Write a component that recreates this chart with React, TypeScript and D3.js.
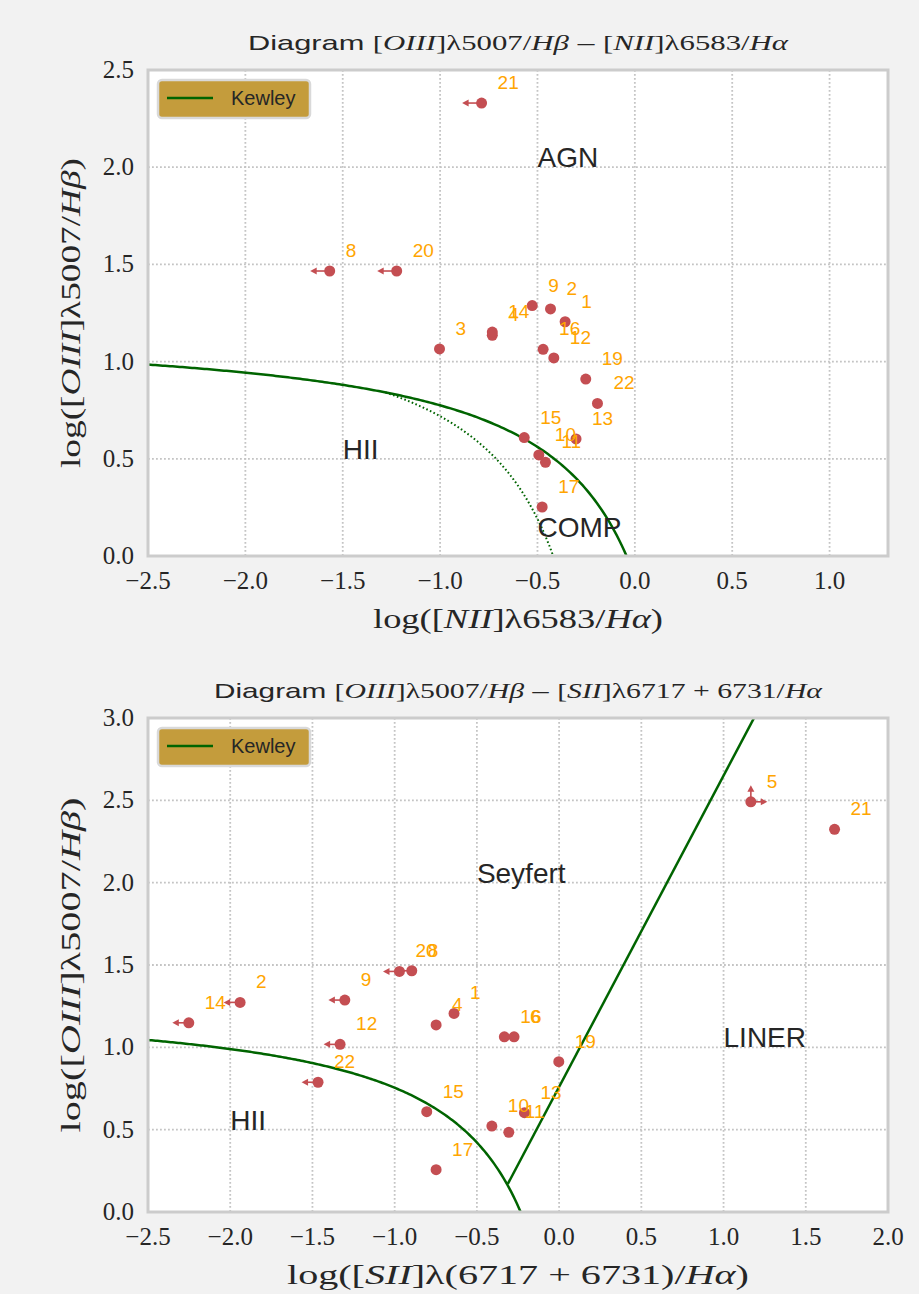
import React from "react";
import * as d3 from "d3";

const W = 919;
const H = 1294;

// ---------- Panel 1: [OIII]/Hb vs [NII]/Ha ----------
const nIds = ["1", "2", "3", "4", "8", "9", "10", "11", "12", "13", "14", "15", "16", "17", "19", "20", "21", "22"];
const nX = [-0.358, -0.433, -1.003, -0.732, -1.567, -0.527, -0.493, -0.459, -0.416, -0.302, -0.732, -0.568, -0.471, -0.476, -0.252, -1.223, -0.787, -0.192];
const nY = [1.205, 1.271, 1.065, 1.135, 1.466, 1.288, 0.52, 0.482, 1.019, 0.602, 1.152, 0.609, 1.063, 0.252, 0.91, 1.466, 2.33, 0.785];
const nLim = ["", "", "", "", "left", "", "", "", "", "", "", "", "", "", "", "left", "left", ""];
const nXTicks = [-2.5, -2.0, -1.5, -1.0, -0.5, 0.0, 0.5, 1.0];
const nYTicks = [0.0, 0.5, 1.0, 1.5, 2.0, 2.5];

// ---------- Panel 2: [OIII]/Hb vs [SII]/Ha ----------
const sIds = ["1", "2", "4", "5", "6", "8", "9", "10", "11", "12", "13", "14", "15", "16", "17", "19", "20", "21", "22"];
const sX = [-0.639, -1.94, -0.748, 1.166, -0.274, -0.896, -1.303, -0.409, -0.306, -1.332, -0.211, -2.252, -0.805, -0.333, -0.748, -0.002, -0.971, 1.675, -1.466];
const sY = [1.206, 1.273, 1.136, 2.491, 1.064, 1.465, 1.287, 0.522, 0.484, 1.018, 0.603, 1.149, 0.609, 1.064, 0.257, 0.913, 1.461, 2.324, 0.788];
const sLim = ["", "left", "", "right,up", "", "left", "left", "", "", "left", "", "left", "", "", "", "", "left", "", "left"];
const sXTicks = [-2.5, -2.0, -1.5, -1.0, -0.5, 0.0, 0.5, 1.0, 1.5, 2.0];
const sYTicks = [0.0, 0.5, 1.0, 1.5, 2.0, 2.5, 3.0];

// classification lines (Kewley 2001, Kauffmann 2003, Kewley 2006)
const KEW_N = { a: 0.61, b: 0.47, c: 1.19 };
const KAUF_N = { a: 0.61, b: 0.05, c: 1.3 };
const KEW_S = { a: 0.72, b: 0.32, c: 1.3 };
const SEY_S = { m: 1.89, c: 0.76 };

const nRegions = [
  { t: "AGN", x: -0.5, y: 2.0 },
  { t: "HII", x: -1.5, y: 0.5 },
  { t: "COMP", x: -0.5, y: 0.1 },
];
const sRegions = [
  { t: "HII", x: -2.0, y: 0.5 },
  { t: "Seyfert", x: -0.5, y: 2.0 },
  { t: "LINER", x: 1.0, y: 1.0 },
];

const BG = "#f2f2f2";
const SANS = "'Liberation Sans', Arial, sans-serif";
const SERIF = "'Liberation Serif', 'Times New Roman', serif";
const TXT = "#262626";
const PT = "#c44e52";
const LAB = "#ffa500";
const GREEN = "#006400";

type Seg = { t: string; it?: boolean; sans?: boolean };

function MathText({ segs, ...rest }: any) {
  return (
    <text {...rest}>
      {segs.map((s: Seg, i: number) => (
        <tspan key={i} fontFamily={s.sans ? SANS : SERIF} fontStyle={s.it ? "italic" : "normal"}>
          {s.t}
        </tspan>
      ))}
    </text>
  );
}

const fmt = d3.format(".1f");

function Panel(props: any) {
  const { box, xDom, yDom, xTicks, yTicks, ids, xs, ys, lims, lines, regions, title, xlabel, ylabel, cid } = props;
  const x = d3.scaleLinear().domain(xDom).range([box.left, box.right]);
  const y = d3.scaleLinear().domain(yDom).range([box.bottom, box.top]);
  const line = d3.line<[number, number]>().x((d) => x(d[0])).y((d) => y(d[1]));
  const aLen = 0.1;
  return (
    <g>
      <defs>
        <clipPath id={cid}>
          <rect x={box.left} y={box.top} width={box.right - box.left} height={box.bottom - box.top} />
        </clipPath>
      </defs>
      <rect x={box.left} y={box.top} width={box.right - box.left} height={box.bottom - box.top} fill="#ffffff" />
      {xTicks.map((t: number) => (
        <line key={"gx" + t} x1={x(t)} x2={x(t)} y1={box.top} y2={box.bottom} stroke="#c4c4c4" strokeWidth={1.8} strokeDasharray="1.8,2.2" />
      ))}
      {yTicks.map((t: number) => (
        <line key={"gy" + t} x1={box.left} x2={box.right} y1={y(t)} y2={y(t)} stroke="#c4c4c4" strokeWidth={1.8} strokeDasharray="1.8,2.2" />
      ))}
      <g clipPath={`url(#${cid})`}>
        {lines.map((l: any, i: number) => (
          <path key={i} d={line(l.pts) || ""} fill="none" stroke={GREEN} strokeWidth={l.dotted ? 2 : 2.5} strokeDasharray={l.dotted ? "1.6,2.4" : undefined} />
        ))}
      </g>
      {regions.map((r: any) => (
        <text key={r.t} x={x(r.x)} y={y(r.y)} fontFamily={SANS} fontSize={28} fill={TXT}>
          {r.t}
        </text>
      ))}
      {ids.map((id: string, i: number) => {
        const px = x(xs[i]);
        const py = y(ys[i]);
        const lim = lims[i];
        const arrows: any[] = [];
        if (lim.includes("left")) {
          const tx = x(xs[i] - aLen);
          arrows.push(
            <g key="l">
              <line x1={px} y1={py} x2={tx + 4} y2={py} stroke={PT} strokeWidth={1.6} />
              <path d={`M${tx},${py} L${tx + 6.5},${py - 3.5} L${tx + 6.5},${py + 3.5} Z`} fill={PT} />
            </g>
          );
        }
        if (lim.includes("right")) {
          const tx = x(xs[i] + aLen);
          arrows.push(
            <g key="r">
              <line x1={px} y1={py} x2={tx - 4} y2={py} stroke={PT} strokeWidth={1.6} />
              <path d={`M${tx},${py} L${tx - 6.5},${py - 3.5} L${tx - 6.5},${py + 3.5} Z`} fill={PT} />
            </g>
          );
        }
        if (lim.includes("up")) {
          const ty = y(ys[i] + aLen);
          arrows.push(
            <g key="u">
              <line x1={px} y1={py} x2={px} y2={ty + 4} stroke={PT} strokeWidth={1.6} />
              <path d={`M${px},${ty} L${px - 3.5},${ty + 6.5} L${px + 3.5},${ty + 6.5} Z`} fill={PT} />
            </g>
          );
        }
        return (
          <g key={"p" + i}>
            {arrows}
            <circle cx={px} cy={py} r={5.5} fill={PT} />
          </g>
        );
      })}
      {ids.map((id: string, i: number) => (
        <text key={"t" + i} x={x(xs[i]) + 16} y={y(ys[i]) - 14} fontFamily={SANS} fontSize={19} fill={LAB}>
          {id}
        </text>
      ))}
      {/* legend */}
      <rect x={box.left + 10} y={box.top + 10} width={152} height={38} rx={4} fill="#c49c3c" stroke="#d9d9d9" strokeWidth={2.5} />
      <line x1={box.left + 19} x2={box.left + 65} y1={box.top + 28} y2={box.top + 28} stroke={GREEN} strokeWidth={2.5} />
      <text x={box.left + 83} y={box.top + 35} fontFamily={SANS} fontSize={20} fill={TXT}>
        Kewley
      </text>
      {/* frame */}
      <rect x={box.left} y={box.top} width={box.right - box.left} height={box.bottom - box.top} fill="none" stroke="#cccccc" strokeWidth={3} />
      {/* ticks */}
      {xTicks.map((t: number) => (
        <text key={"tx" + t} x={x(t)} y={box.bottom + 33} textAnchor="middle" fontFamily={SERIF} fontSize={25} fill={TXT}>
          {fmt(t)}
        </text>
      ))}
      {yTicks.map((t: number) => (
        <text key={"ty" + t} x={box.left - 14} y={y(t) + 8} textAnchor="end" fontFamily={SERIF} fontSize={25} fill={TXT}>
          {fmt(t)}
        </text>
      ))}
      <MathText segs={title.segs} x={(box.left + box.right) / 2} y={box.top - 20} textAnchor="middle" fontSize={title.size} fill={TXT} textLength={title.len} lengthAdjust="spacingAndGlyphs" />
      <MathText segs={xlabel.segs} x={(box.left + box.right) / 2} y={box.bottom + 72} textAnchor="middle" fontSize={28} fill={TXT} textLength={xlabel.len} lengthAdjust="spacingAndGlyphs" />
      <MathText
        segs={ylabel.segs}
        transform={`translate(${box.left - 68},${(box.top + box.bottom) / 2}) rotate(-90)`}
        x={0}
        y={0}
        textAnchor="middle"
        fontSize={28}
        fill={TXT}
        textLength={ylabel.len}
        lengthAdjust="spacingAndGlyphs"
      />
    </g>
  );
}

function kewPts(k: { a: number; b: number; c: number }, x0: number, x1: number): [number, number][] {
  return d3.range(0, 201).map((i) => {
    const xv = x0 + ((x1 - x0) * i) / 200;
    return [xv, k.a / (xv - k.b) + k.c] as [number, number];
  });
}

export default function App() {
  React.useEffect(() => {
    document.body.style.margin = "0";
    document.body.style.background = BG;
  }, []);

  const nLines = [
    { pts: kewPts(KEW_N, -2.5, 0.02) },
    { pts: kewPts(KAUF_N, -1.28, -0.4), dotted: true },
  ];
  // intersection of Kewley(S) and Seyfert/LINER line
  const xi = -0.312;
  const sLines = [
    { pts: kewPts(KEW_S, -2.5, -0.2) },
    { pts: [[xi, SEY_S.m * xi + SEY_S.c], [(3.05 - SEY_S.c) / SEY_S.m, 3.05]] as [number, number][] },
  ];

  const yl: Seg[] = [{ t: "log([" }, { t: "OIII", it: true }, { t: "]λ5007/" }, { t: "Hβ", it: true }, { t: ")" }];

  return (
    <svg width={W} height={H} style={{ position: "absolute", left: 0, top: 0, display: "block", background: BG }}>
      <rect width={W} height={H} fill={BG} />
      <Panel
        cid="c1"
        box={{ left: 148, right: 888, top: 70, bottom: 556 }}
        xDom={[-2.5, 1.3]}
        yDom={[0, 2.5]}
        xTicks={nXTicks}
        yTicks={nYTicks}
        ids={nIds}
        xs={nX}
        ys={nY}
        lims={nLim}
        lines={nLines}
        regions={nRegions}
        title={{
          size: 21,
          len: 540,
          segs: [
            { t: "Diagram ", sans: true },
            { t: "[" },
            { t: "OIII", it: true },
            { t: "]λ5007/" },
            { t: "Hβ", it: true },
            { t: " – ", sans: true },
            { t: "[" },
            { t: "NII", it: true },
            { t: "]λ6583/" },
            { t: "Hα", it: true },
          ],
        }}
        xlabel={{ len: 290, segs: [{ t: "log([" }, { t: "NII", it: true }, { t: "]λ6583/" }, { t: "Hα", it: true }, { t: ")" }] }}
        ylabel={{ len: 310, segs: yl }}
      />
      <Panel
        cid="c2"
        box={{ left: 148, right: 888, top: 718, bottom: 1212 }}
        xDom={[-2.5, 2.0]}
        yDom={[0, 3.0]}
        xTicks={sXTicks}
        yTicks={sYTicks}
        ids={sIds}
        xs={sX}
        ys={sY}
        lims={sLim}
        lines={sLines}
        regions={sRegions}
        title={{
          size: 21,
          len: 608,
          segs: [
            { t: "Diagram ", sans: true },
            { t: "[" },
            { t: "OIII", it: true },
            { t: "]λ5007/" },
            { t: "Hβ", it: true },
            { t: " – ", sans: true },
            { t: "[" },
            { t: "SII", it: true },
            { t: "]λ6717 + 6731/" },
            { t: "Hα", it: true },
          ],
        }}
        xlabel={{ len: 462, segs: [{ t: "log([" }, { t: "SII", it: true }, { t: "]λ(6717 + 6731)/" }, { t: "Hα", it: true }, { t: ")" }] }}
        ylabel={{ len: 335, segs: yl }}
      />
    </svg>
  );
}
